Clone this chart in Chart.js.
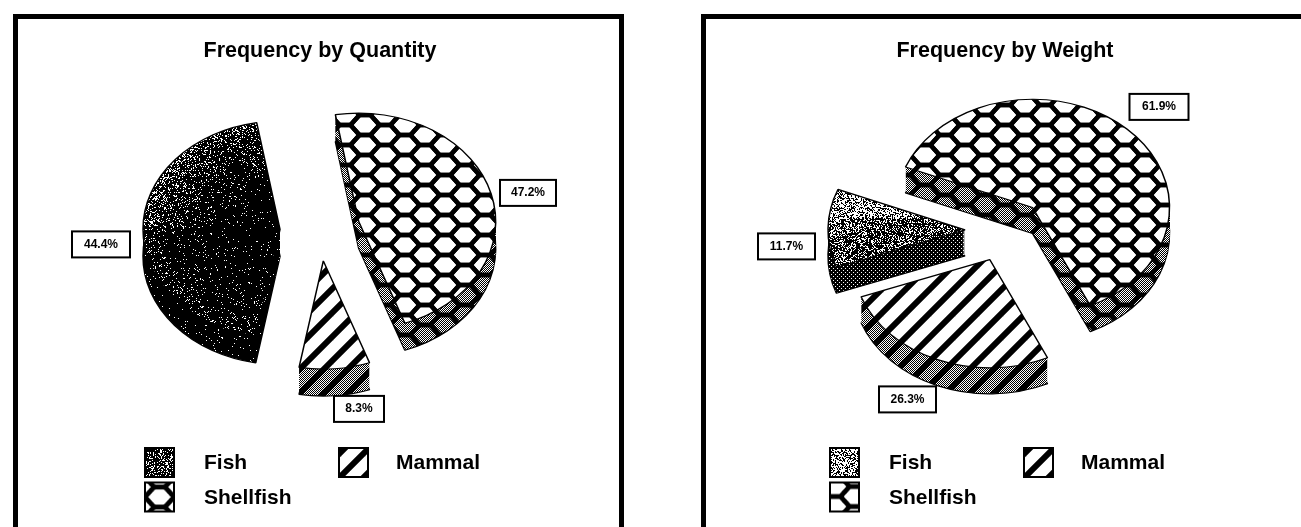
<!DOCTYPE html>
<html><head><meta charset="utf-8">
<style>
html,body{margin:0;padding:0;background:#fff;overflow:hidden;width:1301px;height:527px}
canvas{position:absolute;top:0}
.panel{position:absolute;box-sizing:border-box;border:5px solid #000;border-bottom:none;top:14px;height:520px}
</style>
<script src="https://cdn.jsdelivr.net/npm/chart.js@4"></script>
</head><body>
<div class="panel" style="left:13px;width:611px"></div>
<div class="panel" style="left:701px;width:640px"></div>
<canvas id="quantity" width="640" height="527" style="left:0"></canvas>
<canvas id="weight" width="640" height="527" style="left:685px"></canvas>
<script>
const CATEGORIES = ['Fish', 'Mammal', 'Shellfish'];
const QUANTITY_VALUES = [44.4, 8.3, 47.2];
const WEIGHT_VALUES = [11.7, 26.3, 61.9];
const TITLE_QUANTITY = 'Frequency by Quantity';
const TITLE_WEIGHT = 'Frequency by Weight';

function stipple(c, w, h, densityAt, seed, colour) {
  let s = seed;
  c.fillStyle = colour;
  for (let y = 0; y < h; y++) for (let x = 0; x < w; x++) {
    s = (s * 1103515245 + 12345) & 0x7fffffff;
    if (((s >> 12) % 1000) / 1000 < densityAt(x, y)) c.fillRect(x, y, 1, 1);
  }
}
function tile(w, h, fn) {
  const t = document.createElement('canvas');
  t.width = w; t.height = h;
  fn(t.getContext('2d'), w, h);
  return t;
}
function sparseDots(c, w, h) {
  c.fillStyle = '#000'; c.fillRect(0, 0, w, h);
  c.fillStyle = '#fff';
  for (let y = 0; y < h; y += 2) for (let x = (y % 4 ? 2 : 0); x < w; x += 4) c.fillRect(x, y, 1, 1);
}
function checker(c, w, h) {
  c.fillStyle = '#000'; c.fillRect(0, 0, w, h);
  c.fillStyle = '#fff';
  for (let y = 0; y < h; y++) for (let x = y % 2; x < w; x += 2) c.fillRect(x, y, 1, 1);
}
function hex(c, w, h, bg) {
  if (bg) bg(c, w, h); else { c.fillStyle = '#fff'; c.fillRect(0, 0, w, h); }
  const a = 14.5, b = w / 2 - a, hh = h / 2;
  c.strokeStyle = '#000'; c.lineWidth = 4.5; c.lineJoin = 'round';
  const cell = (x, y) => {
    c.beginPath();
    c.moveTo(x - a, y); c.lineTo(x - b, y - hh); c.lineTo(x + b, y - hh); c.lineTo(x + a, y);
    c.lineTo(x + b, y + hh); c.lineTo(x - b, y + hh); c.closePath();
    c.stroke();
  };
  [[0,0],[w,0],[0,h],[w,h],[w/2,h/2],[-w/2,h/2],[w/2,-h/2],[w/2,3*h/2]].forEach(p => cell(p[0], p[1]));
}
function stripes(c, w, h, bg) {
  if (bg) bg(c, w, h); else { c.fillStyle = '#fff'; c.fillRect(0, 0, w, h); }
  c.strokeStyle = '#000'; c.lineWidth = 6;
  for (let k = -1; k <= 1; k++) {
    c.beginPath(); c.moveTo(k * w - w * 0.1, h + h * 0.1); c.lineTo(k * w + w * 1.1, -h * 0.1); c.stroke();
  }
}
function makePatterns(ctx, fishDark) {
  const p = (t) => ctx.createPattern(t, 'repeat');
  const ax = 280, ay = 228, rx = 137, ry = 108;
  const norm = (x, y) => Math.min(1, Math.hypot((x - ax) / rx, (y - ay) / ry));
  const fishFace = fishDark
    ? tile(640, 527, (c, w, h) => { c.fillStyle = '#000'; c.fillRect(0,0,w,h);
        stipple(c, w, h, (x, y) => { const r = norm(x, y); return (y < ay ? 0.26 : 0.08) * r * r * r + 0.02; }, 7, '#fff'); })
    : tile(640, 527, (c, w, h) => { c.fillStyle = '#fff'; c.fillRect(0,0,w,h);
        stipple(c, w, h, (x, y) => { const r = norm(x, y); return (y < ay - 10 ? 0.48 : 0.72) - 0.1 * r; }, 11, '#000'); });
  const fishSwatch = tile(64, 64, (c, w, h) => {
    c.fillStyle = fishDark ? '#000' : '#fff'; c.fillRect(0,0,w,h);
    stipple(c, w, h, () => fishDark ? 0.26 : 0.42, fishDark ? 3 : 5, fishDark ? '#fff' : '#000');
  });
  const fishWall = fishDark
    ? tile(64, 64, (c, w, h) => { c.fillStyle = '#000'; c.fillRect(0,0,w,h); stipple(c, w, h, () => 0.03, 3, '#fff'); })
    : tile(4, 4, sparseDots);
  return {
    Fish: { face: p(fishFace), wall: p(fishWall), swatch: p(fishSwatch) },
    Mammal: { face: p(tile(24, 24, (c, w, h) => stripes(c, w, h))), wall: p(tile(24, 24, (c, w, h) => stripes(c, w, h, checker))) },
    Shellfish: { face: p(tile(40, 20, (c, w, h) => hex(c, w, h))), wall: p(tile(40, 20, (c, w, h) => hex(c, w, h, checker))) }
  };
}

function drawPie(canvasId, titleText, values, cfg) {
  const canvas = document.getElementById(canvasId);
  const patterns = makePatterns(canvas.getContext('2d'), cfg.fishDark);
  const labels = CATEGORIES.slice().reverse();
  const data = values.slice().reverse();
  const pie3d = {
    id: 'pie3d',
    beforeDatasetDraw(chart, args) {
      const ctx = chart.ctx;
      const layer = (arc, pattern, d, border, phase) => {
        const mid = (arc.startAngle + arc.endAngle) / 2;
        ctx.save();
        ctx.translate(arc.x, arc.y + d);
        ctx.scale(1, cfg.tilt);
        ctx.translate(Math.cos(mid) * cfg.explode, Math.sin(mid) * cfg.explode);
        ctx.translate(-arc.x, -arc.y);
        pattern.setTransform(ctx.getTransform().inverse().translate(phase[0], phase[1]));
        const saved = arc.options;
        arc.options = Object.create(saved);
        arc.options.backgroundColor = pattern;
        arc.options.borderWidth = border;
        arc.draw(ctx);
        arc.options = saved;
        ctx.restore();
      };
      args.meta.data.forEach((arc, i) => {
        const name = labels[i], set = patterns[name];
        const phase = cfg.phase[name] || [0, 0];
        for (let d = cfg.depth; d >= 1; d--) layer(arc, set.wall, d, d === cfg.depth ? 1.5 : 0, phase);
        layer(arc, set.face, 0, 1.5, phase);
      });
      return false;
    },
    afterDraw(chart) {
      const ctx = chart.ctx, area = chart.chartArea;
      const cx = (area.left + area.right) / 2, cy = (area.top + area.bottom) / 2;
      ctx.save();
      ctx.textBaseline = 'middle';
      ctx.textAlign = 'center';
      ctx.font = 'bold 12px "Liberation Sans"';
      data.forEach((v, i) => {
        const l = cfg.labels[labels[i]];
        const x = cx + l[0], y = cy + l[1];
        ctx.fillStyle = '#fff';
        ctx.fillRect(x - l[2] / 2, y - 13, l[2], 26);
        ctx.strokeStyle = '#000'; ctx.lineWidth = 2;
        ctx.strokeRect(x - l[2] / 2, y - 13, l[2], 26);
        ctx.fillStyle = '#000';
        ctx.fillText(v.toFixed(1) + '%', x, y);
      });
      ctx.textAlign = 'left';
      ctx.font = 'bold 21px "Liberation Sans"';
      CATEGORIES.forEach((name, i) => {
        const sw = cfg.legendSwatch[i], tx = cfg.legendText[i];
        const set = patterns[name];
        const pat = set.swatch || set.face;
        const ph = cfg.swatchPhase[name];
        pat.setTransform(new DOMMatrix().translate(sw[0] + ph[0], sw[1] + ph[1]));
        ctx.fillStyle = pat;
        ctx.fillRect(sw[0], sw[1], 29, 29);
        ctx.strokeStyle = '#000'; ctx.lineWidth = 2;
        ctx.strokeRect(sw[0], sw[1], 29, 29);
        ctx.fillStyle = '#000';
        ctx.fillText(name, tx[0], tx[1]);
      });
      ctx.restore();
    }
  };
  return new Chart(canvas, {
    type: 'pie',
    plugins: [pie3d],
    data: {
      labels,
      datasets: [{
        data,
        backgroundColor: labels.map(n => patterns[n].face),
        borderColor: '#000',
        borderWidth: 1.5
      }]
    },
    options: {
      responsive: false,
      animation: false,
      rotation: cfg.rotation,
      radius: 137,
      layout: { padding: { bottom: cfg.padBottom } },
      plugins: {
        legend: { display: false },
        tooltip: { enabled: false },
        title: {
          display: true,
          text: titleText,
          color: '#000',
          font: { family: '"Liberation Sans"', size: 21.5, weight: 'bold' },
          padding: { top: 38, bottom: 0 }
        }
      }
    }
  });
}

const LEGEND_SWATCH = [[145, 448], [339, 448], [145, 482.5]];
const LEGEND_TEXT = [[204, 463], [396, 463], [204, 498]];

drawPie('quantity', TITLE_QUANTITY, QUANTITY_VALUES, {
  fishDark: true, tilt: 0.79, explode: 40, depth: 27, rotation: -9.8, padBottom: 132,
  phase: { Shellfish: [5, 5], Mammal: [21, 0] },
  swatchPhase: { Fish: [0, 0], Mammal: [2, 4], Shellfish: [14.5, 14.5] },
  labels: { Fish: [-219, 15, 58], Shellfish: [208, -36.5, 56], Mammal: [39, 179.5, 50] },
  legendSwatch: LEGEND_SWATCH, legendText: LEGEND_TEXT
});
drawPie('weight', TITLE_WEIGHT, WEIGHT_VALUES, {
  fishDark: false, tilt: 0.79, explode: 40, depth: 26, rotation: -68, padBottom: 130,
  phase: { Shellfish: [0, 15], Mammal: [6, 0] },
  swatchPhase: { Fish: [0, 0], Mammal: [2, 4], Shellfish: [5, 24] },
  labels: { Shellfish: [154, -123.5, 59], Fish: [-218.5, 16, 57], Mammal: [-97.5, 169, 57] },
  legendSwatch: LEGEND_SWATCH, legendText: LEGEND_TEXT
});
</script>
</body></html>
